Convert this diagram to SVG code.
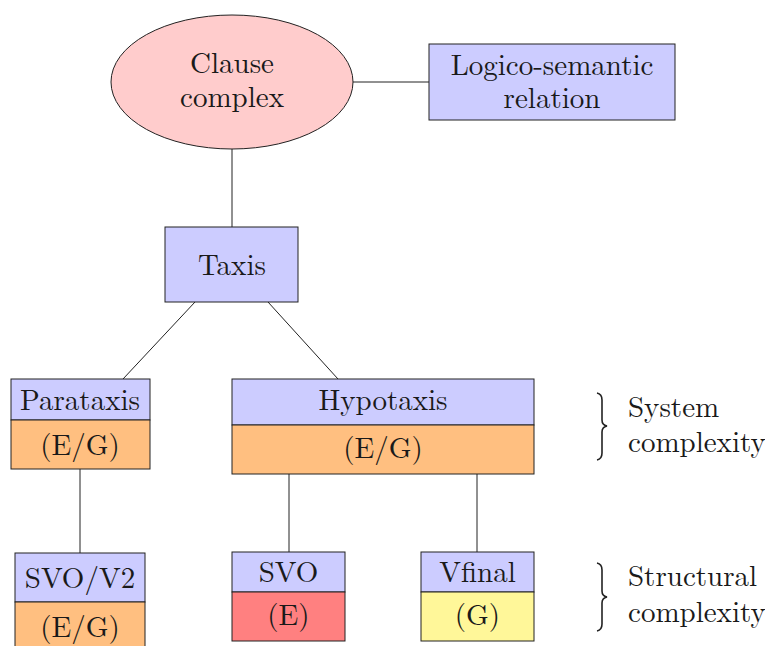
<svg xmlns="http://www.w3.org/2000/svg" width="765" height="646" viewBox="0 0 765 646">
<style>
text{font-size:29px;fill:#1a1a1a;text-anchor:middle}
.b{fill:#CCCCFF;stroke:#222;stroke-width:1}
.o{fill:#FFBF80;stroke:#222;stroke-width:1}
.c line{stroke:#222;stroke-width:1}
.br{fill:none;stroke:#222;stroke-width:1.6}
.l{text-anchor:start}
</style>
<rect width="765" height="646" fill="#fff"/>
<g class="c" id="connectors">
<line x1="353" y1="82" x2="429" y2="82"/>
<line x1="232" y1="149" x2="232" y2="227"/>
<line x1="195" y1="302" x2="123" y2="379"/>
<line x1="268" y1="302" x2="338" y2="379"/>
<line x1="80" y1="469" x2="80" y2="553"/>
<line x1="289" y1="474" x2="289" y2="552"/>
<line x1="477" y1="474" x2="477" y2="552"/>
</g>
<g font-family="Latin Modern Roman, Liberation Serif, serif">
<g id="clause">
<ellipse cx="232" cy="82" rx="121" ry="67" fill="#FFCCCC" stroke="#222" stroke-width="1"/>
<text x="232" y="73">Clause</text>
<text x="232" y="107">complex</text>
</g>
<g id="logico">
<rect class="b" x="429" y="44" width="246" height="76"/>
<text x="552" y="75">Logico-semantic</text>
<text x="552" y="108">relation</text>
</g>
<g id="taxis">
<rect class="b" x="165" y="227" width="133" height="75"/>
<text x="232" y="275">Taxis</text>
</g>
<g id="parataxis">
<rect class="b" x="11" y="379" width="139" height="41"/>
<rect class="o" x="11" y="420" width="139" height="49"/>
<text x="80" y="410">Parataxis</text>
<text x="80" y="455">(E/G)</text>
</g>
<g id="hypotaxis">
<rect class="b" x="232" y="379" width="302" height="46"/>
<rect class="o" x="232" y="425" width="302" height="49"/>
<text x="383" y="410">Hypotaxis</text>
<text x="383" y="458">(E/G)</text>
</g>
<g id="svov2">
<rect class="b" x="15" y="553" width="130" height="49"/>
<rect class="o" x="15" y="602" width="130" height="50"/>
<text x="80" y="588">SVO/V2</text>
<text x="80" y="637">(E/G)</text>
</g>
<g id="svo">
<rect class="b" x="232" y="552" width="113" height="40"/>
<rect x="232" y="592" width="113" height="49" fill="#FF8080" stroke="#222" stroke-width="1"/>
<text x="288.5" y="582">SVO</text>
<text x="288.5" y="625">(E)</text>
</g>
<g id="vfinal">
<rect class="b" x="421" y="552" width="113" height="40"/>
<rect x="421" y="592" width="113" height="49" fill="#FFF799" stroke="#222" stroke-width="1"/>
<text x="477.5" y="582">Vfinal</text>
<text x="477.5" y="625">(G)</text>
</g>
<g id="system">
<path class="br" d="M597,393 Q602,394 602,400 L602,420 Q602,425 607,426 Q602,427 602,432 L602,453 Q602,459 597,460"/>
<text class="l" x="628" y="417">System</text>
<text class="l" x="628" y="452">complexity</text>
</g>
<g id="structural">
<path class="br" d="M597,563 Q602,564 602,570 L602,591 Q602,596 607,597 Q602,598 602,603 L602,624 Q602,630 597,631"/>
<text class="l" x="628" y="586">Structural</text>
<text class="l" x="628" y="622">complexity</text>
</g>
</g>
</svg>
